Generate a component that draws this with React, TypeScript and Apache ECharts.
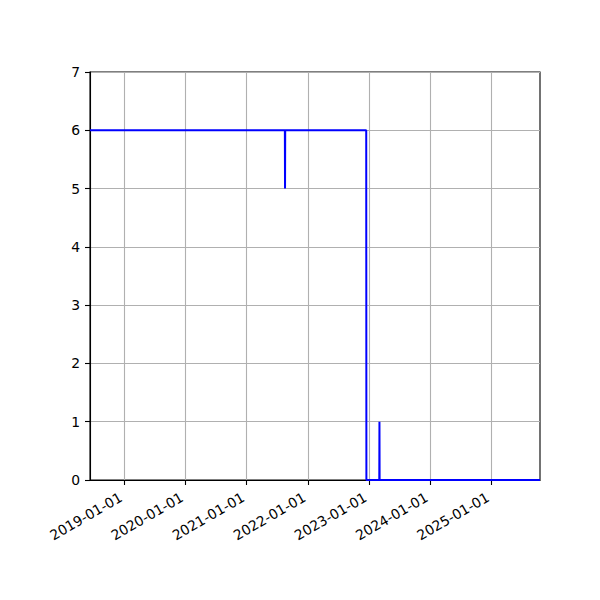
import React, { useEffect, useRef } from "react";
import * as echarts from "echarts";

const xMinDate = "2018-06-10";
const xMaxDate = "2025-10-19";
const dates = [
  "2018-06-10",
  "2021-08-17",
  "2021-08-18",
  "2021-08-19",
  "2022-12-16",
  "2022-12-17",
  "2023-03-04",
  "2023-03-05",
  "2023-03-06",
  "2025-10-19",
];
const values = [6, 6, 5, 6, 6, 0, 0, 1, 0, 0];
const xTickDates = [
  "2019-01-01",
  "2020-01-01",
  "2021-01-01",
  "2022-01-01",
  "2023-01-01",
  "2024-01-01",
  "2025-01-01",
];
const yMin = 0;
const yMax = 7;

const FONT = "DejaVu Sans";

export default function App() {
  const ref = useRef<HTMLDivElement>(null);
  useEffect(() => {
    if (!ref.current) return;
    const chart = echarts.init(ref.current, undefined, { renderer: "svg" });
    const tickVals = xTickDates.map((d) => Date.parse(d));
    chart.setOption({
      animation: false,
      backgroundColor: "#ffffff",
      grid: {
        left: 90,
        right: 60,
        top: 72,
        bottom: 120,
        show: true,
        borderColor: "#000000",
        borderWidth: 1.1,
        backgroundColor: "transparent",
      },
      xAxis: {
        type: "value",
        min: Date.parse(xMinDate),
        max: Date.parse(xMaxDate),
        axisLine: { show: true, onZero: false, lineStyle: { color: "#000", width: 1.1 } },
        axisTick: {
          show: true,
          length: 5,
          customValues: tickVals,
          lineStyle: { color: "#000", width: 1.1 },
        },
        axisLabel: {
          customValues: tickVals,
          rotate: 30,
          margin: 14,
          padding: [0, 4, 0, 0],
          color: "#000",
          fontFamily: FONT,
          fontSize: 13.9,
          formatter: (v: number) => new Date(v).toISOString().slice(0, 10),
        },
        splitLine: { show: false },
      },
      yAxis: {
        type: "value",
        min: yMin,
        max: yMax,
        interval: 1,
        axisLine: { show: true, lineStyle: { color: "#000", width: 1.1 } },
        axisTick: { show: true, length: 5, lineStyle: { color: "#000", width: 1.1 } },
        axisLabel: { color: "#000", fontFamily: FONT, fontSize: 13.9, margin: 10 },
        splitLine: { show: true, lineStyle: { color: "#b0b0b0", width: 1.1 } },
      },
      series: [
        {
          type: "line",
          data: [],
          z: 1,
          silent: true,
          markLine: {
            silent: true,
            symbol: "none",
            z: 1,
            label: { show: false },
            emphasis: { disabled: true },
            lineStyle: { color: "#b0b0b0", width: 1.1, type: "solid" },
            data: tickVals.map((t) => ({ xAxis: t })),
          },
        },
        {
          type: "line",
          z: 3,
          data: dates.map((d, i) => [Date.parse(d), values[i]]),
          showSymbol: false,
          symbol: "none",
          lineStyle: { color: "#0000ff", width: 2 },
          itemStyle: { color: "#0000ff" },
        },
      ],
    });
    return () => chart.dispose();
  }, []);
  return (
    <div
      ref={ref}
      style={{ position: "fixed", left: 0, top: 0, width: 600, height: 600 }}
    />
  );
}
